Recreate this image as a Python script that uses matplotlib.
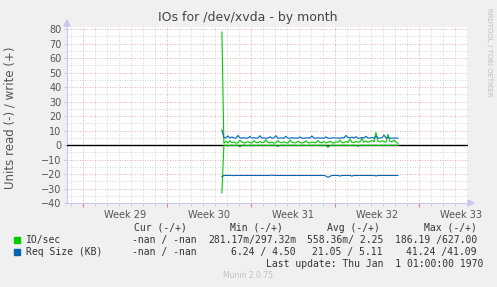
import numpy as np
import matplotlib
matplotlib.use("Agg")
import matplotlib.pyplot as plt
from matplotlib.patches import Rectangle, Polygon

# time axis in days from plot start, one sample every 4 hours
t0 = 12.9
step = 1 / 6

io_write = [78, 1.2, 2.6, 1.4, 3.0, 1.6, 2.2, 1.3, 1.5, 3.4, 2.1, 1.5, 1.6, 2.4, 1.7,
            1.4, 3.1, 1.8, 1.5, 2.5, 1.6, 1.9, 3.6, 1.7, 1.5, 2.2, 1.4, 1.6, 3.0, 1.9,
            1.5, 2.3, 1.6, 1.4, 3.4, 2.0, 1.6, 1.5, 2.6, 1.8, 1.4, 1.7, 2.9, 1.6, 1.5,
            2.1, 1.8, 1.5, 3.2, 1.7, 1.6, 2.4, 1.5, 1.8, 2.7, 1.6, 1.4, 2.2, 1.9, 3.4,
            1.7, 1.6, 2.5, 1.8, 4.0, 2.0, 1.7, 2.6, 1.9, 2.3, 4.6, 2.0, 2.8, 1.9, 2.4,
            3.3, 2.1, 8.6, 2.6, 2.2, 3.0, 2.4, 2.0, 7.4, 2.5, 2.2, 3.5, 2.0, 1.2]
io_read = [-33, -0.2, -0.1, -0.6, -0.2, -0.1, -0.3, -0.1, -0.2, -1.2, -0.2, -0.1, -0.2, -0.4, -0.1,
           -0.2, -0.1, -0.3, -0.1, -0.2, -0.1, -0.2, -0.1, -0.3, -0.1, -0.2, -0.1, -0.2, -1.0, -0.1,
           -0.2, -0.1, -0.3, -0.1, -0.2, -0.1, -0.2, -0.1, -0.4, -0.1, -0.2, -0.1, -0.3, -0.2, -0.1,
           -0.2, -0.1, -0.3, -0.1, -0.2, -0.1, -0.2, -0.1, -1.6, -0.4, -0.1, -0.2, -0.1, -0.3, -0.1,
           -0.2, -0.1, -0.2, -0.1, -0.3, -0.1, -0.2, -0.1, -0.9, -0.1, -0.2, -0.1, -0.3, -0.1, -0.2,
           -0.1, -0.2, -0.1, -0.3, -0.2, -0.1, -0.2, -0.1, -0.3, -0.1, -0.2, -0.1, -0.2, -0.1]
rq_write = [10.5, 5.2, 4.9, 6.3, 4.8, 5.6, 4.9, 4.7, 6.6, 5.0, 4.8, 5.1, 4.7, 4.8, 5.9,
            4.8, 5.1, 4.7, 4.9, 6.4, 4.8, 5.0, 4.7, 4.8, 5.7, 4.8, 4.9, 6.5, 4.7, 4.8,
            5.0, 4.7, 6.0, 4.8, 4.7, 5.1, 4.8, 4.9, 4.7, 5.6, 4.8, 4.7, 4.9, 5.0, 4.8,
            6.3, 4.8, 4.7, 5.0, 4.8, 4.9, 4.7, 5.6, 4.8, 4.7, 4.9, 5.0, 4.8, 4.9, 4.7,
            5.2, 4.8, 6.6, 5.3, 4.9, 5.5, 4.8, 5.8, 4.7, 4.9, 5.2, 4.8, 6.0, 4.9, 4.8,
            5.3, 4.7, 6.1, 4.9, 4.8, 5.0, 6.9, 4.9, 5.1, 4.8, 4.8, 4.9, 4.8, 4.7]
rq_read = [-21.8, -21.0, -21.0, -20.9, -21.0, -21.0, -21.1, -21.0, -21.0, -21.0, -21.0, -21.0, -21.0, -20.9, -21.0,
           -21.0, -21.0, -21.0, -21.0, -21.0, -21.0, -21.0, -21.0, -21.0, -21.0, -20.7, -21.0, -21.0, -21.0, -21.0,
           -21.0, -21.0, -21.0, -21.0, -21.0, -21.0, -21.0, -21.0, -21.0, -21.0, -21.0, -21.0, -21.0, -21.0, -21.0,
           -21.0, -21.0, -21.0, -21.0, -21.0, -21.0, -21.0, -21.4, -22.3, -21.6, -21.0, -21.0, -21.0, -21.0, -21.4,
           -21.0, -21.0, -21.0, -21.0, -21.0, -21.4, -21.0, -21.0, -21.0, -21.0, -21.0, -21.0, -21.0, -21.0, -21.0,
           -21.0, -21.0, -21.3, -21.0, -21.0, -21.0, -21.0, -21.0, -21.0, -21.0, -21.0, -21.0, -21.0, -21.0]

weeks = ["Week 29", "Week 30", "Week 31", "Week 32", "Week 33"]
week_starts = [1.33, 8.33, 15.33, 22.33, 29.33]

x = t0 + step * np.arange(len(io_write))

W, H = 497, 287
fig = plt.figure(figsize=(W / 100, H / 100), dpi=100, facecolor="#F0F0F0")
ax = fig.add_axes([67 / W, 1 - 203 / H, 401 / W, 176 / H])
ax.set_facecolor("white")
ax.set_xlim(0, 33.4)
ax.set_ylim(-40, 81.5)

txt = "#555555"
minor_c = "#C8C8C8"
major_c = "#E09494"

# grid
for d in np.arange(0.33, 33.4, 1.0):
    major = any(abs(d - w) < 0.01 for w in week_starts)
    ax.axvline(d, color=major_c if major else minor_c, lw=0.6, ls=(0, (1, 2)), zorder=1)
for v in range(-35, 81, 5):
    ax.axhline(v, color=major_c if v % 10 == 0 else minor_c, lw=0.6, ls=(0, (1, 2)), zorder=1)
ax.axhline(0, color="black", lw=1.0, zorder=3)

ax.plot(x, io_write, color="#00CC00", lw=0.8, zorder=4)
ax.plot(x, io_read, color="#00CC00", lw=0.8, zorder=4)
ax.plot(x, rq_write, color="#0066B3", lw=0.8, zorder=4)
ax.plot(x, rq_read, color="#0066B3", lw=0.8, zorder=4)

for s in ["top", "right"]:
    ax.spines[s].set_visible(False)
for s in ["left", "bottom"]:
    ax.spines[s].set_color("#C8C8F0")
    ax.spines[s].set_linewidth(0.8)

ax.set_yticks(range(-40, 81, 10))
ax.tick_params(axis="y", length=2, color="#C8C8F0", labelsize=7, labelcolor=txt, pad=2)
ax.set_xticks(week_starts)
ax.set_xticklabels([])
ax.set_xticks(np.arange(0.33, 33.4, 1.0), minor=True)
ax.tick_params(axis="x", which="major", length=3, color="#E08080")
ax.tick_params(axis="x", which="minor", length=2, color="#C8C8C8")
for w, lab in zip(week_starts, weeks):
    ax.text(w + 3.5, -0.04, lab, transform=ax.get_xaxis_transform(), ha="center", va="top",
            fontsize=7, color=txt, clip_on=False)

# axis arrows
fig.patches.append(Polygon([[64 / W, 1 - 26 / H], [70 / W, 1 - 26 / H], [67 / W, 1 - 20 / H]],
                           closed=True, transform=fig.transFigure, color="#C8C8F0"))
fig.patches.append(Polygon([[468 / W, 1 - 200 / H], [468 / W, 1 - 206 / H], [474 / W, 1 - 203 / H]],
                           closed=True, transform=fig.transFigure, color="#C8C8F0"))

fig.text(248 / W, 1 - 18 / H, "IOs for /dev/xvda - by month", ha="center", va="center",
         fontsize=9, color="#444444")
fig.text(10 / W, 1 - 118 / H, "Units read (-) / write (+)", rotation=90, ha="center", va="center",
         fontsize=8.5, color=txt)
fig.text(489 / W, 1 - 52 / H, "RRDTOOL / TOBI OETIKER", rotation=270, ha="center", va="center",
         fontsize=5, color="#C0C0C0")

mono = dict(family="DejaVu Sans Mono", fontsize=7, color="#333333", va="center")
fig.text(187 / W, 1 - 228 / H, "Cur (-/+)", ha="right", **mono)
fig.text(283 / W, 1 - 228 / H, "Min (-/+)", ha="right", **mono)
fig.text(380 / W, 1 - 228 / H, "Avg (-/+)", ha="right", **mono)
fig.text(477 / W, 1 - 228 / H, "Max (-/+)", ha="right", **mono)

rows = [("IO/sec", "#00CC00", ["-nan / -nan", "281.17m/297.32m", "558.36m/ 2.25", "186.19 /627.00"]),
        ("Req Size (KB)", "#0066B3", ["-nan / -nan", "6.24 / 4.50", "21.05 / 5.11", "41.24 /41.09"])]
ends = [197, 296, 383, 477]
for i, (name, col, vals) in enumerate(rows):
    yy = 240 + 12 * i
    fig.patches.append(Rectangle((14 / W, 1 - (yy + 3) / H), 6 / W, 6 / H,
                                 transform=fig.transFigure, color=col))
    fig.text(26 / W, 1 - yy / H, name, ha="left", **mono)
    for e, v in zip(ends, vals):
        fig.text(e / W, 1 - yy / H, v, ha="right", **mono)

fig.text(483 / W, 1 - 264 / H, "Last update: Thu Jan  1 01:00:00 1970", ha="right", **mono)
fig.text(248 / W, 1 - 276 / H, "Munin 2.0.75", ha="center", va="center", fontsize=5.5, color="#C0C0C0")

fig.savefig("out.png", dpi=100, facecolor=fig.get_facecolor())
